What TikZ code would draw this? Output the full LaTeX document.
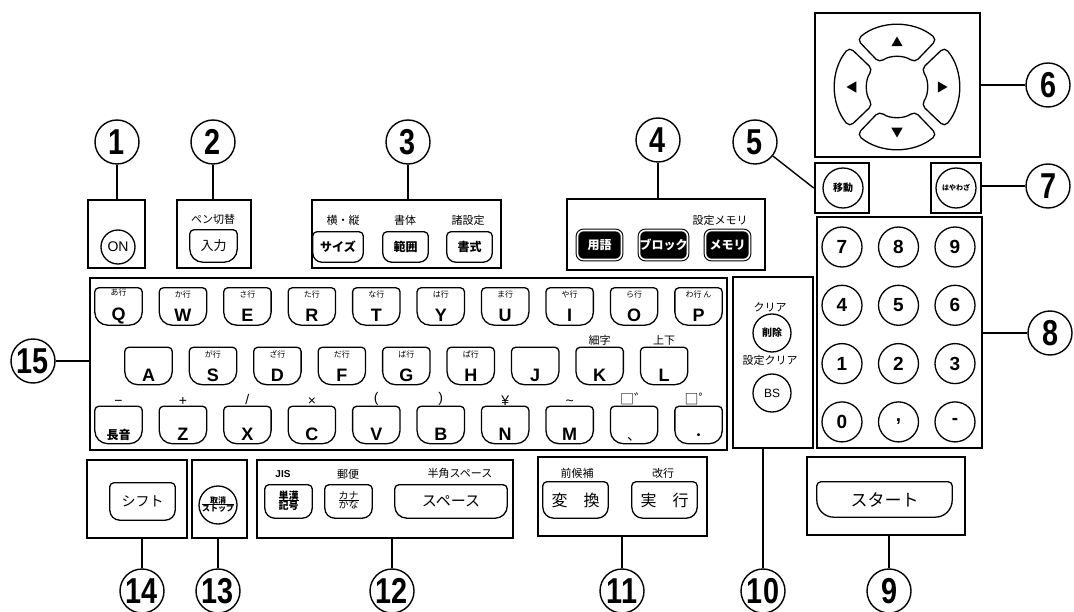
\documentclass[tikz,border=0pt]{standalone}
\usepackage{fontspec}
\setmainfont{Liberation Sans}
\newfontfamily\jp{Noto Sans CJK JP}
\newfontfamily\numfont[FakeStretch=0.8]{Liberation Sans}
\usetikzlibrary{%
	positioning,%
	shapes.geometric%
}

\newcommand\keyfont{\bfseries\fontsize{18}{18}\selectfont}
\newcommand\kanafont{\jp\mdseries\fontsize{8}{8}\selectfont}
\newcommand\keytxt[2]{\vbox to 31pt{\hbox to 44pt{\hss\kanafont #1\hss}\vss\hbox to 44pt{\hss #2\hss}}}
\newcommand\stackkey[2]{\begin{tabular}{@{}c@{}}#1\\[-2pt]\hline #2\end{tabular}}

\tikzset{
	panel/.style={draw, line width=2.6pt, inner sep=0pt},
	callout/.style={circle, draw, line width=1.4pt, inner sep=0pt, minimum size=44pt,
		font=\numfont\bfseries\fontsize{36}{36}\selectfont},
	lead/.style={line width=1.4pt},
	keyline/.style={line width=1.3pt},
	% flat top, rounder bottom
	keycap/.style={inner sep=0pt, minimum width=47pt, minimum height=37pt,
		append after command={\pgfextra{\draw[keyline]
			(\tikzlastnode.north) -- ([xshift=4pt]\tikzlastnode.north west)
			arc[start angle=90, end angle=180, radius=4pt]
			-- ([yshift=#1]\tikzlastnode.south west)
			arc[start angle=180, end angle=270, radius=#1]
			-- ([xshift=-#1]\tikzlastnode.south east)
			arc[start angle=270, end angle=360, radius=#1]
			-- ([yshift=-4pt]\tikzlastnode.north east)
			arc[start angle=0, end angle=90, radius=4pt] -- cycle;}}},
	keycap/.default=13pt,
	circkey/.style={circle, draw, line width=1.3pt, inner sep=0pt, minimum size=#1},
	darkkey/.style={draw, fill=black, text=white, line width=1.1pt, double=white,
		double distance=1.6pt, rounded corners=6pt, inner sep=0pt,
		minimum width=44pt, minimum height=29pt, font=\jp\bfseries\fontsize{12}{12}\selectfont},
	grp/.style={inner sep=1pt, font=\jp\fontsize{11}{11}\selectfont},
	symlbl/.style={inner sep=1pt, font=\fontsize{14}{14}\selectfont},
	tri/.style={regular polygon, regular polygon sides=3, fill, inner sep=0pt, minimum size=13pt}
}

\begin{document}
\begin{tikzpicture}[x=1pt,y=-1pt]
	\useasboundingbox (0,0) rectangle (1074,612);

	% Panels
	\node[panel, minimum width=57pt, minimum height=68pt] (p1) at (116.5,234) {};
	\node[panel, minimum width=74pt, minimum height=68pt] (p2) at (214,234) {};
	\node[panel, minimum width=189pt, minimum height=68pt] (p3) at (406.5,234) {};
	\node[panel, minimum width=198pt, minimum height=71pt] (p4) at (666,234.5) {};
	\node[panel, minimum width=54pt, minimum height=50pt] (p5) at (842,188) {};
	\node[panel, minimum width=165pt, minimum height=144pt] (p6) at (897.5,85) {};
	\node[panel, minimum width=50pt, minimum height=50pt] (p7) at (956,188) {};
	\node[panel, minimum width=165pt, minimum height=231pt] (p8) at (899.5,332.5) {};
	\node[panel, minimum width=637pt, minimum height=172pt] (pk) at (408.5,364) {};
	\node[panel, minimum width=80pt, minimum height=171pt] (p10) at (773,362.5) {};
	\node[panel, minimum width=100pt, minimum height=78pt] (p14) at (137,499) {};
	\node[panel, minimum width=55pt, minimum height=78pt] (p13) at (219.5,499) {};
	\node[panel, minimum width=256pt, minimum height=78pt] (p12) at (385,499) {};
	\node[panel, minimum width=169pt, minimum height=79pt] (p11) at (622.5,496.5) {};
	\node[panel, minimum width=158pt, minimum height=78pt] (p9) at (886,496) {};

	% Callout numbers and their leads
	\node[callout] (c1) at (117,142) {1};
	\node[callout] (c2) at (213,142) {2};
	\node[callout] (c3) at (408,142) {3};
	\node[callout] (c4) at (658,140) {4};
	\node[callout] (c5) at (755,142) {5};
	\node[callout] (c6) at (1048,85) {6};
	\node[callout] (c7) at (1048,186) {7};
	\node[callout] (c8) at (1050,333) {8};
	\node[callout] (c9) at (889,591) {9};
	\node[callout] (c10) at (763,591) {10};
	\node[callout] (c11) at (622,591) {11};
	\node[callout] (c12) at (392,591) {12};
	\node[callout] (c13) at (218,591) {13};
	\node[callout] (c14) at (142,591) {14};
	\node[callout] (c15) at (33,361) {15};
	\foreach \c/\p in {c1/p1, c2/p2, c3/p3, c4/p4}
		\draw[lead] (\c) -- (\c |- \p.north);
	\foreach \c/\p in {c9/p9, c10/p10, c11/p11, c12/p12, c13/p13, c14/p14}
		\draw[lead] (\c) -- (\c |- \p.south);
	\foreach \c/\p in {c6/p6, c7/p7, c8/p8}
		\draw[lead] (\c) -- (\c -| \p.east);
	\draw[lead] (c5) -- (p5.west);
	\draw[lead] (c15) -- (c15 -| pk.west);

	% Power and pen
	\node[circkey=34pt, font=\fontsize{14}{14}\selectfont] (kOn) at (118,247) {ON};
	\node[grp] (lPen) at (213,219) {ペン切替};
	\node[keycap, minimum height=32pt, font=\jp\fontsize{13}{13}\selectfont] (kInput) at (213.5,246) {入力};

	% Layout keys
	\node[grp] (lSize) at (343,220) {横・縦};
	\node[grp] (lFace) at (405,220) {書体};
	\node[grp] (lSet) at (468,220) {諸設定};
	\node[keycap=9pt, minimum width=50pt, minimum height=30pt, font=\jp\bfseries\fontsize{12}{12}\selectfont] (kSize) at (338,247) {サイズ};
	\node[keycap=9pt, minimum width=45pt, minimum height=30pt, font=\jp\bfseries\fontsize{12}{12}\selectfont] (kRange) at (405.5,247) {範囲};
	\node[keycap=9pt, minimum width=45pt, minimum height=30pt, font=\jp\bfseries\fontsize{12}{12}\selectfont] (kForm) at (469.5,247) {書式};

	% Memory keys
	\node[grp] (lMem) at (720,220) {設定メモリ};
	\node[darkkey] (kTerm) at (599.5,245) {用語};
	\node[darkkey, minimum width=47pt] (kBlock) at (663.5,245) {ブロック};
	\node[darkkey] (kMem) at (727.5,245) {メモリ};

	% Cursor pad
	\coordinate (dpad) at (897,87);
	\foreach \a in {90,0,-90,180}
		\draw[keyline, rounded corners=5pt] ([shift={(\a+40:62)}]dpad)
			arc[start angle=\a+40, end angle=\a-40, radius=62]
			-- ([shift={(\a-36:30)}]dpad)
			arc[start angle=\a-36, end angle=\a+36, radius=30] -- cycle;
	\node[tri] (tUp) at (897,43) {};
	\node[tri, shape border rotate=180] (tDown) at (897,131) {};
	\node[tri, shape border rotate=90] (tLeft) at (853,87) {};
	\node[tri, shape border rotate=-90] (tRight) at (941,87) {};
	\node[circkey=40pt, font=\jp\bfseries\fontsize{10}{10}\selectfont] (kMove) at (843,188) {移動};
	\node[circkey=40pt, font=\jp\bfseries\fontsize{7}{7}\selectfont] (kQuick) at (956,188) {はやわざ};

	% Number keys
	\foreach \d [count=\i from 0, evaluate=\i as \nx using {842+56.5*mod(\i,3)},
		evaluate=\i as \ny using {247+58.3*int(\i/3)}] in {7,8,9,4,5,6,1,2,3,0,{,},-}
		\node[circkey=40pt, font=\bfseries\fontsize{19}{19}\selectfont] (n\i) at (\nx,\ny) {\d};

	% Clear keys
	\node[grp] (lClr) at (770,307) {クリア};
	\node[circkey=38pt, font=\jp\bfseries\fontsize{10}{10}\selectfont] (kDel) at (772,333) {削除};
	\node[grp] (lSetClr) at (770,360) {設定クリア};
	\node[circkey=38pt, font=\fontsize{12}{12}\selectfont] (kBS) at (772,393) {BS};

	% Letter keys
	\foreach \ltr/\kana [count=\i from 0] in {Q/あ行, W/か行, E/さ行, R/た行, T/な行,
		Y/は行, U/ま行, I/や行, O/ら行, P/わ行\ ん}
		\node[keycap, font=\keyfont] (k\ltr) at (118.5+64.45*\i,306.5) {\keytxt{\kana}{\ltr}};
	\foreach \ltr/\kana [count=\i from 0] in {A/{}, S/が行, D/ざ行, F/だ行, G/ば行,
		H/ぱ行, J/{}, K/{}, L/{}}
		\node[keycap, font=\keyfont] (k\ltr) at (148.5+64.45*\i,366) {\keytxt{\kana}{\ltr}};
	\node[grp, above=1pt of kK] (lThin) {細字};
	\node[grp, above=1pt of kL] (lUpDn) {上下};
	\foreach \sym/\key [count=\i from 0] in {{−}/{\jp\fontsize{12}{12}\selectfont 長音}, {+}/Z, {/}/X,
		{×}/C, {(}/V, {)}/B, {¥}/N, {\textasciitilde}/M, {\jp □゛}/{\jp\mdseries\fontsize{14}{14}\selectfont 、},
		{\jp □゜}/{\jp\mdseries\fontsize{14}{14}\selectfont ・}}
	{
		\node[keycap, font=\keyfont] (z\i) at (118.5+64.45*\i,425) {\keytxt{}{\key}};
		\node[symlbl, above=0pt of z\i] (s\i) {\sym};
	}

	% Bottom row
	\node[keycap=10pt, minimum width=65pt, font=\jp\fontsize{14}{14}\selectfont] (kShift) at (142.5,501.5) {シフト};
	\node[circkey=38pt, font=\jp\bfseries\fontsize{8}{8}\selectfont] (kStop) at (218,505) {\stackkey{取消}{ストップ}};
	\node[inner sep=1pt, font=\bfseries\fontsize{10}{10}\selectfont] (lJis) at (283,474) {JIS};
	\node[grp] (lPost) at (348,474) {郵便};
	\node[grp] (lHalf) at (460,473) {半角スペース};
	\node[keycap=10pt, minimum height=33pt, font=\jp\bfseries\fontsize{10}{10}\selectfont] (kKanji) at (288.5,501.5) {\stackkey{単漢}{記号}};
	\node[keycap=10pt, minimum height=33pt, font=\jp\fontsize{10}{10}\selectfont] (kKana) at (348.5,501.5) {\stackkey{カナ}{かな}};
	\node[keycap=12pt, minimum width=112pt, minimum height=33pt, font=\jp\fontsize{15}{15}\selectfont] (kSpace) at (451,501.5) {スペース};
	\node[grp] (lPrev) at (577,473) {前候補};
	\node[grp] (lRet) at (663,473) {改行};
	\node[keycap=11pt, minimum width=65pt, minimum height=36pt, font=\jp\fontsize{16}{16}\selectfont] (kConv) at (575.5,500) {変\quad 換};
	\node[keycap=11pt, minimum width=65pt, minimum height=36pt, font=\jp\fontsize{16}{16}\selectfont] (kExec) at (664.5,500) {実\quad 行};
	\node[keycap=17pt, minimum width=135pt, minimum height=35pt, font=\jp\fontsize{17}{17}\selectfont] (kStart) at (884.5,499.5) {スタート};
\end{tikzpicture}
\end{document}
